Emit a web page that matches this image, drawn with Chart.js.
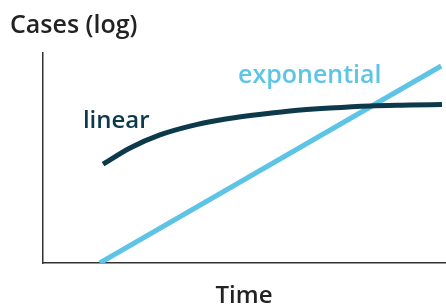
<!DOCTYPE html>
<html>
<head>
<meta charset="utf-8">
<script src="https://cdn.jsdelivr.net/npm/chart.js@4/dist/chart.umd.min.js"></script>
<style>
  html, body { margin: 0; padding: 0; background: #fff; }
  #wrap { width: 446px; height: 304px; }
</style>
</head>
<body>
<div id="wrap"><canvas id="chart"></canvas></div>
<script>
// --- DATA (time 0..100, log cases 0..100) ---
const linearTime = [14.9, 21.6, 29.0, 36.5, 43.9, 51.4, 61.3, 71.2, 81.1, 91.1, 99.0];
const linearCases = [47.1, 54.8, 61.0, 65.2, 68.1, 70.2, 72.4, 73.8, 74.8, 75.2, 75.5];
const expTime = [14.1, 98.8];
const expCases = [0, 93.8];
const seriesNames = ["linear", "exponential"];
const yTitle = "Cases (log)";
const xTitle = "Time";

const darkColor = "#0d3a4b";
const lightColor = "#5ec4e6";
const axisColor = "#333333";
const textColor = "#222222";

const toPoints = (xs, ys) => xs.map((x, i) => ({ x: x, y: ys[i] }));

// labels next to each line, plus both axis titles
const labelPlugin = {
    id: "labels",
    afterDraw(chart) {
        const ctx = chart.ctx;
        const xs = chart.scales.x, ys = chart.scales.y;
        ctx.save();
        ctx.textBaseline = "alphabetic";
        ctx.textAlign = "left";
        ctx.font = "600 24px 'Open Sans'";
        ctx.fillStyle = darkColor;
        ctx.fillText(seriesNames[0], xs.getPixelForValue(9.9), ys.getPixelForValue(64.3));
        ctx.font = "600 25px 'Open Sans'";
        ctx.fillStyle = lightColor;
        ctx.fillText(seriesNames[1], xs.getPixelForValue(48.4), ys.getPixelForValue(85.7));
        ctx.fillStyle = textColor;
        ctx.fillText(yTitle, 10, 33);
        ctx.textAlign = "center";
        ctx.font = "600 24px 'Open Sans'";
        ctx.fillText(xTitle, 244, 303);
        ctx.restore();
    }
};

new Chart(document.getElementById("chart"), {
    type: "line",
    data: {
        datasets: [
            {
                label: seriesNames[0],
                data: toPoints(linearTime, linearCases),
                borderColor: darkColor,
                borderWidth: 5,
                cubicInterpolationMode: "monotone",
                pointRadius: 0
            },
            {
                label: seriesNames[1],
                data: toPoints(expTime, expCases),
                borderColor: lightColor,
                borderWidth: 5,
                pointRadius: 0
            }
        ]
    },
    options: {
        responsive: true,
        maintainAspectRatio: false,
        animation: false,
        layout: { padding: { left: 43, top: 53, right: 0, bottom: 41 } },
        plugins: {
            legend: { display: false },
            tooltip: { enabled: false }
        },
        scales: {
            x: {
                type: "linear",
                min: 0,
                max: 100,
                grid: { display: false },
                border: { display: true, color: axisColor, width: 1.5 },
                ticks: { display: false },
                afterFit: (s) => { s.height = 0; }
            },
            y: {
                type: "linear",
                min: 0,
                max: 100,
                grid: { display: false },
                border: { display: true, color: axisColor, width: 1.5 },
                ticks: { display: false },
                afterFit: (s) => { s.width = 0; }
            }
        }
    },
    plugins: [labelPlugin]
});
</script>
</body>
</html>
